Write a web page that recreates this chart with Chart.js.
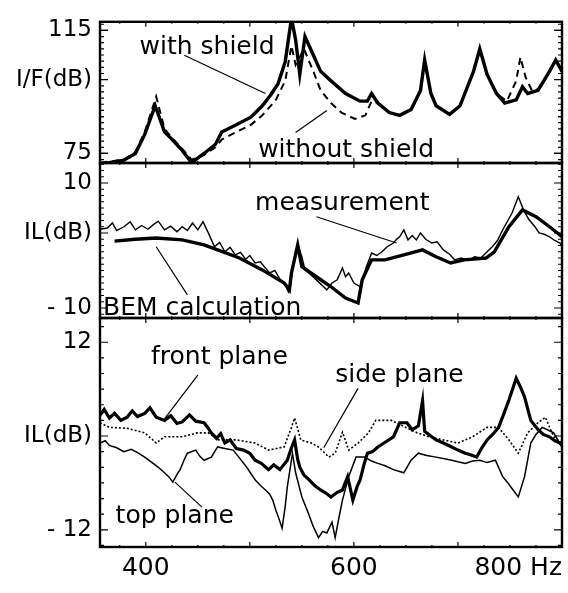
<!DOCTYPE html>
<html>
<head>
<meta charset="utf-8">
<title>Effect of the shield</title>
<script src="https://cdn.jsdelivr.net/npm/chart.js@4.4.1/dist/chart.umd.min.js"></script>
<style>
  html, body { margin: 0; padding: 0; background: #fff; }
  #wrap { position: relative; width: 568px; height: 593px; }
  #wrap canvas { position: absolute; left: 0; top: 0; }
</style>
</head>
<body>
<div id="wrap">
  <canvas id="panel1" width="568" height="593"></canvas>
  <canvas id="panel2" width="568" height="593"></canvas>
  <canvas id="panel3" width="568" height="593"></canvas>
</div>
<script>
// frequency axis (Hz)
const freqMin = 356;
const freqMax = 800;
const freqTicks = [356, 400, 600, 800];
const freqLabels = ["", "400", "600", "800 Hz"];

// panel 1 : I/F with and without shield
const withShieldHz = [356, 365, 379, 390, 399, 409, 418, 424, 435, 444, 456, 467, 473, 487, 501, 512, 520, 527, 534, 540, 544, 548, 553, 561, 568, 578, 592, 606, 613, 617, 623, 634, 644, 655, 664, 668, 674, 679, 692, 702, 715, 721, 728, 737, 745, 756, 762, 767, 777, 788, 794, 800];
const withShieldDb = [71.5, 72, 72.8, 75, 81.2, 90.5, 82, 80, 76, 72, 75, 78, 82, 84.3, 86.8, 90.5, 94, 97.6, 104.8, 119, 112, 100.7, 113, 107, 101.7, 98.6, 94.5, 92, 92, 94.5, 91.4, 88.3, 87.4, 89.3, 95.5, 105.4, 94.5, 90.5, 87.7, 90.5, 101.7, 109, 100.7, 94.5, 91.4, 92.4, 96.7, 94.5, 95.5, 101.7, 105.4, 101.7];
const withoutShieldHz = [356, 379, 390, 399, 410, 418, 424, 435, 444, 456, 467, 473, 487, 501, 512, 525, 534, 540, 544, 552, 561, 568, 578, 588, 601, 611, 617, 623, 634, 644, 655, 664, 668, 674, 679, 692, 702, 715, 721, 728, 737, 747, 756, 760, 765, 771, 777, 788, 794, 800];
const withoutShieldDb = [72, 73, 75.5, 82, 93.5, 83, 80.5, 76.5, 73, 74.5, 77, 79.5, 82, 84.3, 87.4, 92.4, 98.6, 110, 103.8, 109, 101.7, 95.5, 91.4, 88.3, 86.2, 87.4, 92, 91.4, 88.3, 87.4, 89.3, 95.5, 105, 94.5, 90.5, 87.7, 90.5, 101.7, 108.5, 100.7, 94.5, 92, 98.6, 106.3, 99.8, 95.5, 96, 101.7, 105, 101.7];

// panel 2 : IL measurement vs BEM calculation
const measurementHz = [356, 363, 368, 372, 379, 385, 390, 396, 402, 407, 412, 418, 424, 430, 435, 440, 445, 450, 455, 461, 466, 471, 476, 481, 486, 491, 496, 500, 505, 510, 515, 519, 524, 529, 533, 537, 541, 546, 550, 553, 558, 564, 569, 574, 579, 584, 589, 592, 595, 600, 606, 612, 617, 622, 627, 632, 638, 641, 644, 648, 652, 656, 660, 664, 669, 675, 680, 686, 692, 697, 703, 710, 716, 722, 728, 733, 738, 743, 748, 752, 758, 763, 768, 774, 778, 783, 788, 793, 798, 800];
const measurementDb = [2.6, 2.8, 3.6, 2.4, 3.0, 3.8, 2.5, 3.2, 2.6, 3.3, 3.9, 2.5, 3.1, 2.2, 3.0, 2.4, 3.6, 2.5, 3.8, 1.7, -0.2, 0.5, -1.0, -0.3, -1.5, -1.1, -2.2, -1.6, -2.8, -2.6, -3.6, -4.4, -4.0, -5.4, -6.0, -7.4, -3.9, 0.1, -1.8, -3.9, -4.6, -5.5, -6.3, -7.1, -6.0, -5.5, -3.6, -5.0, -4.4, -6.0, -6.6, -3.4, -1.2, -1.6, -1.0, -0.2, 0.4, 1.0, 1.4, 2.5, 0.9, 1.6, 0.9, 2.0, 1.0, 0.4, 0.6, -0.7, -1.4, -2.3, -2.0, -2.4, -1.8, -2.0, -1.0, -0.2, 0.8, 2.5, 4.0, 5.2, 7.8, 5.7, 4.2, 3.0, 2.0, 1.8, 1.4, 0.8, 0.4, -0.2];
const bemHz = [370, 390, 410, 435, 456, 469, 490, 512, 533, 538, 540, 546, 550, 564, 578, 592, 604, 608, 617, 630, 648, 666, 679, 693, 706, 727, 735, 749, 762, 775, 788, 800];
const bemDb = [0.7, 1.0, 1.2, 0.9, 0.1, -0.7, -2.0, -3.9, -6.0, -7.1, -4.4, 0.1, -3.4, -5.0, -6.6, -8.4, -9.2, -5.5, -2.3, -2.3, -1.5, -0.7, -1.8, -2.8, -2.3, -2.0, -1.0, 3.0, 5.7, 4.6, 3.0, 1.4];

// panel 3 : IL in three planes
const frontHz = [356, 360, 365, 370, 376, 382, 387, 392, 399, 404, 410, 418, 424, 430, 435, 442, 448, 456, 460, 463, 468, 472, 476, 481, 487, 494, 500, 505, 511, 518, 523, 529, 533, 536, 540, 543, 546, 548, 552, 557, 562, 568, 573, 578, 584, 589, 594, 599, 603, 606, 610, 613, 618, 623, 630, 638, 644, 651, 656, 662, 666, 668, 672, 679, 686, 694, 700, 707, 712, 718, 723, 728, 734, 739, 744, 749, 756, 760, 764, 770, 777, 782, 788, 793, 798, 800];
const frontDb = [2.7, 3.4, 2.3, 2.9, 2.0, 2.4, 3.2, 2.5, 2.9, 3.6, 2.4, 2.0, 2.6, 1.6, 1.8, 2.7, 1.9, 1.7, 1.0, 0.4, -0.3, 0.3, -0.9, -0.5, -1.6, -1.8, -2.2, -3.1, -3.5, -4.3, -3.7, -4.3, -3.6, -3.1, -1.5, -0.5, -3.0, -4.0, -5.0, -5.6, -6.3, -6.9, -7.3, -7.8, -7.2, -6.9, -5.2, -8.2, -6.5, -5.6, -3.5, -2.2, -2.0, -1.4, -0.8, -0.1, 1.7, 1.7, 0.8, 1.3, 4.5, 0.6, 0.2, -0.5, -0.9, -1.4, -1.8, -2.2, -2.4, -2.7, -1.5, -0.5, 0.3, 1.1, 2.8, 4.6, 7.4, 6.3, 5.0, 2.0, 0.8, 0.2, -0.1, -0.6, -0.9, -1.2];
const sideHz = [356, 365, 382, 399, 405, 410, 418, 435, 449, 460, 470, 487, 505, 518, 533, 540, 543, 549, 559, 566, 576, 582, 589, 595, 604, 614, 621, 636, 650, 661, 672, 686, 700, 714, 728, 739, 749, 758, 767, 777, 784, 792, 800];
const sideDb = [1.7, 1.1, 1.0, 0.4, -0.3, -0.9, -0.1, -0.1, 0.4, 0.4, -0.5, -0.5, -0.9, -1.8, -1.4, 1.1, 2.3, -0.5, -0.9, -1.4, -2.7, -2.2, 0.5, -1.8, -0.9, 0.4, 2.0, 2.0, 1.1, 0.4, -0.1, -0.5, -0.9, -0.1, 1.1, 1.1, -0.5, -2.2, 0.4, 1.7, 2.4, -0.1, -0.9];
const topHz = [356, 361, 365, 372, 379, 386, 393, 400, 407, 412, 418, 422, 426, 430, 433, 437, 440, 448, 452, 456, 463, 469, 476, 484, 490, 497, 505, 510, 515, 519, 522, 525, 528, 531, 534, 536, 541, 544, 550, 556, 561, 566, 570, 574, 579, 582, 586, 589, 595, 602, 610, 617, 623, 630, 638, 648, 655, 662, 670, 679, 687, 694, 700, 707, 714, 721, 728, 736, 743, 748, 753, 758, 764, 770, 775, 781, 786, 792, 796, 800];
const topDb = [-0.9, -0.6, -1.2, -1.5, -2.0, -1.7, -2.2, -2.8, -3.5, -4.0, -4.7, -5.2, -5.9, -4.9, -4.3, -3.0, -2.2, -1.8, -2.6, -3.1, -2.7, -1.4, -1.6, -1.8, -2.8, -4.0, -5.6, -6.3, -6.9, -7.4, -8.2, -9.5, -10.6, -11.8, -9.0, -6.5, -2.2, -4.7, -7.8, -9.8, -11.6, -13.0, -12.2, -12.4, -11.0, -13.0, -10.2, -8.2, -5.2, -2.7, -2.7, -3.2, -3.5, -3.8, -4.3, -4.7, -3.1, -2.2, -2.5, -2.7, -2.9, -3.1, -3.3, -3.5, -3.2, -3.1, -3.4, -3.1, -5.2, -6.0, -6.9, -7.8, -5.2, -0.9, 0.2, 1.1, 0.8, 0.4, -0.5, -1.4];

const fontFamily = "'DejaVu Sans', sans-serif";

function toPoints(xs, ys) {
  return xs.map((x, i) => ({ x: x, y: ys[i] }));
}

function lineSet(xs, ys, width, dash) {
  return {
    data: toPoints(xs, ys),
    borderColor: "#000",
    borderWidth: width,
    borderDash: dash || [],
    pointRadius: 0,
    tension: 0,
    fill: false
  };
}

// frame, inward tick marks, text notes and leader lines
const framePlugin = {
  id: "frame",
  afterDraw(chart, args, opts) {
    let ctx = chart.ctx;
    let a = chart.chartArea;
    let xs = chart.scales.x;
    let ys = chart.scales.y;
    ctx.save();
    ctx.strokeStyle = "#000";
    ctx.lineWidth = 1.2;
    opts.minorY.forEach(v => {
      let y = ys.getPixelForValue(v);
      let len = opts.majorY.includes(v) ? 8 : 4;
      ctx.beginPath();
      ctx.moveTo(a.left, y); ctx.lineTo(a.left + len, y);
      ctx.moveTo(a.right, y); ctx.lineTo(a.right - len, y);
      ctx.stroke();
    });
    for (let f = 375; f < freqMax; f += 25) {
      let x = xs.getPixelForValue(f);
      let len = f % 100 === 0 ? 5 : 2;
      ctx.beginPath();
      ctx.moveTo(x, a.top); ctx.lineTo(x, a.top + len);
      ctx.moveTo(x, a.bottom); ctx.lineTo(x, a.bottom - len);
      ctx.stroke();
    }
    ctx.lineWidth = 2.4;
    ctx.strokeRect(a.left, a.top, a.right - a.left, a.bottom - a.top);

    ctx.lineWidth = 1.2;
    opts.leaders.forEach(l => {
      ctx.beginPath();
      ctx.moveTo(xs.getPixelForValue(l[0]), ys.getPixelForValue(l[1]));
      ctx.lineTo(xs.getPixelForValue(l[2]), ys.getPixelForValue(l[3]));
      ctx.stroke();
    });
    ctx.fillStyle = "#000";
    ctx.font = "25px " + fontFamily;
    ctx.textAlign = "left";
    ctx.textBaseline = "middle";
    opts.notes.forEach(n => {
      ctx.fillText(n.text, xs.getPixelForValue(n.hz), ys.getPixelForValue(n.db));
    });
    ctx.restore();
  }
};

function range(from, to, step) {
  let out = [];
  for (let v = from; v <= to + 1e-9; v += step) out.push(Math.round(v * 10) / 10);
  return out;
}

function makePanel(id, p) {
  let showX = !!p.xHeight;
  return new Chart(document.getElementById(id), {
    type: "line",
    data: { datasets: p.datasets },
    plugins: [framePlugin],
    options: {
      responsive: false,
      animation: false,
      events: [],
      layout: { padding: { left: 0, right: 6, top: p.top, bottom: p.bottom } },
      plugins: {
        legend: { display: false },
        tooltip: { enabled: false },
        frame: { minorY: p.minorY, majorY: p.yTicks, notes: p.notes, leaders: p.leaders }
      },
      scales: {
        x: {
          type: "linear",
          display: showX,
          min: freqMin,
          max: freqMax,
          grid: { display: false, drawTicks: false },
          border: { display: false },
          afterBuildTicks: s => { s.ticks = freqTicks.map(v => ({ value: v })); },
          afterFit: s => { s.height = p.xHeight || 0; },
          ticks: {
            autoSkip: false,
            maxRotation: 0,
            align: "inner",
            padding: 6,
            color: "#000",
            font: { family: fontFamily, size: 25 },
            callback: (v, i) => freqLabels[i]
          }
        },
        y: {
          type: "linear",
          min: p.yMin,
          max: p.yMax,
          grid: { display: false, drawTicks: false },
          border: { display: false },
          afterBuildTicks: s => { s.ticks = p.yTicks.map(v => ({ value: v })); },
          afterFit: s => { s.width = 100; },
          ticks: {
            autoSkip: false,
            padding: 8,
            color: "#000",
            font: { family: fontFamily, size: 23 },
            callback: (v, i) => p.yLabels[i]
          }
        }
      }
    }
  });
}

makePanel("panel1", {
  top: 15, bottom: 430,
  yMin: 71.9, yMax: 117.8,
  yTicks: [75, 99, 115], yLabels: ["75", "I/F(dB)", "115"],
  minorY: range(73, 117, 2).concat([75, 87, 101, 115]),
  datasets: [
    lineSet(withoutShieldHz, withoutShieldDb, 2, [7, 5]),
    lineSet(withShieldHz, withShieldDb, 3.4)
  ],
  notes: [
    { text: "with shield", hz: 394, db: 109.4 },
    { text: "without shield", hz: 508, db: 75.9 }
  ],
  leaders: [[437, 106.9, 515, 94.5], [544, 81.8, 574, 89]]
});

makePanel("panel2", {
  top: 163, bottom: 275,
  yMin: -11.6, yMax: 13.2,
  yTicks: [-10, 2, 10], yLabels: ["- 10", "IL(dB)", "10"],
  minorY: range(-11, 13, 1),
  datasets: [
    lineSet(measurementHz, measurementDb, 1.4),
    lineSet(bemHz, bemDb, 3.4)
  ],
  notes: [
    { text: "measurement", hz: 505, db: 6.8 },
    { text: "BEM calculation", hz: 359, db: -10 }
  ],
  leaders: [[564, 4.6, 641, 0.4], [410, -0.2, 440, -7.9]]
});

makePanel("panel3", {
  top: 318, bottom: 0, xHeight: 46,
  yMin: -14.2, yMax: 15.1,
  yTicks: [-12, 0, 12], yLabels: ["- 12", "IL(dB)", "12"],
  minorY: range(-14, 14, 2),
  datasets: [
    lineSet(sideHz, sideDb, 1.6, [2, 2]),
    lineSet(topHz, topDb, 1.5),
    lineSet(frontHz, frontDb, 3.2)
  ],
  notes: [
    { text: "front plane", hz: 405, db: 10.1 },
    { text: "side plane", hz: 582, db: 7.8 },
    { text: "top plane", hz: 371, db: -10.3 }
  ],
  leaders: [[450, 7.8, 418.5, 2.3], [604, 6.1, 571, -1.5], [428, -5.9, 454, -9.1]]
});
</script>
</body>
</html>
